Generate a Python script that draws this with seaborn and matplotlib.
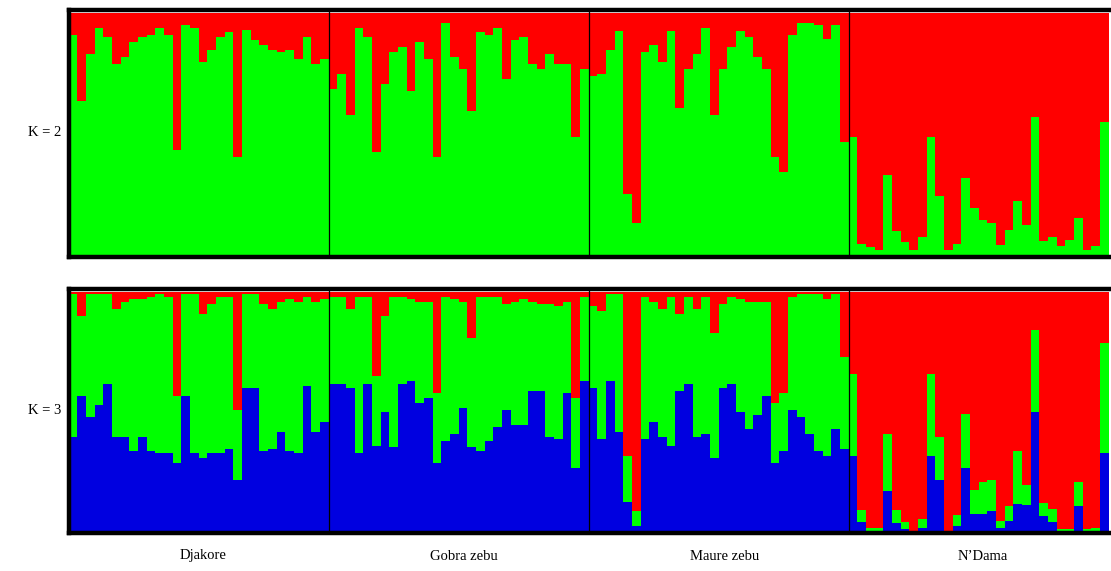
import numpy as np
import pandas as pd
import matplotlib
matplotlib.use('Agg')
import matplotlib.pyplot as plt
import seaborn as sns

# === 집단 / 색 ===
groups = ['Djakore', 'Gobra zebu', 'Maure zebu', 'N\u2019Dama']
red, green, blue = '#FF0000', '#00FF00', '#0000E0'

# === K = 2 : 개체별 red 비율 (나머지는 green) ===
k2_red_djakore = [.09, .36, .17, .06, .10, .21, .18, .12, .10, .09, .06, .09, .56, .05, .06,
                  .20, .15, .10, .08, .59, .07, .11, .13, .15, .16, .15, .19, .10, .21, .19]
k2_red_gobra = [.31, .25, .42, .06, .10, .57, .29, .16, .14, .32, .12, .19, .59, .04, .18,
                .23, .40, .08, .09, .06, .27, .11, .10, .21, .23, .17, .21, .21, .51, .23]
k2_red_maure = [.26, .25, .15, .075, .74, .86, .16, .13, .20, .075, .39, .23, .17, .06, .42,
                .23, .14, .075, .10, .18, .23, .59, .65, .09, .04, .04, .05, .105, .05, .53]
k2_red_ndama = [.51, .945, .96, .97, .665, .895, .94, .97, .92, .51, .75, .97, .945, .675, .80,
                .85, .86, .95, .89, .77, .87, .425, .935, .92, .955, .93, .84, .97, .955, .445]

# === K = 3 : 개체별 red / blue 비율 (나머지는 green) ===
k3_red_djakore = [.01, .10, .01, .01, .01, .07, .04, .03, .03, .02, .01, .02, .43, .01, .01,
                  .09, .05, .02, .02, .49, .01, .01, .05, .07, .04, .03, .04, .02, .04, .03]
k3_blue_djakore = [.40, .57, .48, .53, .62, .40, .40, .34, .40, .34, .33, .33, .29, .57, .33,
                   .31, .33, .33, .35, .22, .60, .60, .34, .35, .42, .34, .33, .61, .42, .46]
k3_red_gobra = [.02, .02, .07, .02, .02, .35, .10, .02, .02, .03, .04, .04, .42, .02, .03,
                .04, .19, .02, .02, .02, .05, .04, .03, .04, .05, .05, .06, .04, .44, .02]
k3_blue_gobra = [.62, .62, .60, .33, .62, .36, .50, .355, .62, .63, .54, .56, .29, .38, .41,
                 .52, .355, .34, .38, .44, .51, .45, .45, .59, .59, .40, .39, .58, .27, .63]
k3_red_maure = [.06, .08, .01, .01, .68, .91, .02, .04, .07, .02, .09, .02, .07, .02, .17,
                .05, .02, .03, .04, .04, .04, .46, .42, .02, .01, .01, .01, .03, .01, .27]
k3_blue_maure = [.60, .39, .63, .42, .13, .03, .39, .46, .40, .36, .59, .62, .40, .41, .31,
                 .60, .62, .50, .43, .49, .57, .29, .34, .51, .48, .41, .34, .32, .43, .35]
k3_red_ndama = [.34, .905, .98, .98, .59, .905, .955, .99, .94, .34, .60, .99, .925, .505, .82,
                .79, .78, .95, .89, .66, .80, .16, .875, .90, .985, .985, .79, .985, .98, .21]
k3_blue_ndama = [.32, .045, .01, .01, .175, .04, .015, .005, .02, .32, .22, .005, .03, .27, .08,
                 .08, .09, .02, .05, .12, .115, .50, .07, .045, .005, .005, .11, .005, .005, .33]

# === DataFrame ===
n_per = len(k2_red_djakore)
df2 = pd.DataFrame({
    'red': k2_red_djakore + k2_red_gobra + k2_red_maure + k2_red_ndama,
})
df3 = pd.DataFrame({
    'red': k3_red_djakore + k3_red_gobra + k3_red_maure + k3_red_ndama,
    'blue': k3_blue_djakore + k3_blue_gobra + k3_blue_maure + k3_blue_ndama,
})
for d in (df2, df3):
    d['ind'] = np.arange(len(d))
    d['total'] = 1.0
df2['green_top'] = df2['total'] - df2['red']
df3['green_top'] = df3['total'] - df3['red']
n = len(df2)

plt.rcParams['font.family'] = ['Liberation Serif', 'DejaVu Serif']
fig = plt.figure(figsize=(11.11, 5.71), dpi=100)
W, H = 1111, 571
px_bar = 8.667
left_px = 73 - 0.5 * px_bar
ax_w = (n + 0.5) * px_bar / W

# 위 패널 (K=2), 아래 패널 (K=3)
ax2 = fig.add_axes([left_px / W, (H - 257) / H, ax_w, (257 - 10) / H])
ax3 = fig.add_axes([left_px / W, (H - 533) / H, ax_w, (533 - 289) / H])

bar_kw = dict(width=1, linewidth=0, saturation=1, errorbar=None, antialiased=False)

sns.barplot(data=df2, x='ind', y='total', color=red, ax=ax2, **bar_kw)
sns.barplot(data=df2, x='ind', y='green_top', color=green, ax=ax2, **bar_kw)

sns.barplot(data=df3, x='ind', y='total', color=red, ax=ax3, **bar_kw)
sns.barplot(data=df3, x='ind', y='green_top', color=green, ax=ax3, **bar_kw)
sns.barplot(data=df3, x='ind', y='blue', color=blue, ax=ax3, **bar_kw)

for ax in (ax2, ax3):
    ax.set_xlim(-0.5, n)
    ax.set_ylim(0, 1.012)
    ax.set_xticks([])
    ax.set_yticks([])
    ax.set_xlabel('')
    ax.set_ylabel('')
    for s in ax.spines.values():
        s.set_linewidth(3.2)
        s.set_color('black')
    for b in range(1, 4):
        ax.axvline(b * n_per - 0.5, color='black', linewidth=0.9)

fig.text(45 / W, 1 - 133 / H, 'K = 2', ha='center', va='center', fontsize=10.5)
fig.text(45 / W, 1 - 411 / H, 'K = 3', ha='center', va='center', fontsize=10.5)

centers_px = [203, 464, 725, 983]
for name, cx in zip(groups, centers_px):
    fig.text(cx / W, 1 - 556 / H, name, ha='center', va='center', fontsize=10.5)

fig.savefig('out.png', dpi=100)
